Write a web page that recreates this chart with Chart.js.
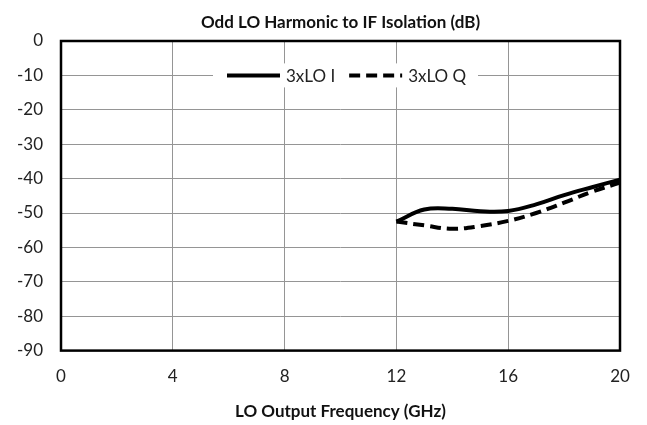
<!DOCTYPE html>
<html>
<head>
<meta charset="utf-8">
<script src="https://cdn.jsdelivr.net/npm/chart.js@4/dist/chart.umd.min.js"></script>
<style>
  html, body { margin: 0; padding: 0; background: #fff; }
  #wrap { width: 647px; height: 425px; }
</style>
</head>
<body>
<div id="wrap"><canvas id="isoChart"></canvas></div>
<script>
// values
const freqGHz = [12, 13, 14, 15, 16, 17, 18, 19, 20];
const loI = [-52.5, -49.0, -48.8, -49.5, -49.4, -47.5, -44.8, -42.5, -40.3];
const loQ = [-52.5, -53.6, -54.6, -53.8, -52.3, -50.0, -47.0, -43.8, -41.2];
const seriesNames = ['3xLO I', '3xLO Q'];
const xTicks = [0, 4, 8, 12, 16, 20];
const yTicks = [0, -10, -20, -30, -40, -50, -60, -70, -80, -90];
const chartTitle = 'Odd LO Harmonic to IF Isolation (dB)';

const FONT = 'Lato, Open Sans, sans-serif';

const toPoints = (ys) => freqGHz.map((f, i) => ({ x: f, y: ys[i] }));

// box round the plot, title centred on the plot, legend inside the plot
const framePlugin = {
  id: 'frame',
  afterDraw(chart) {
    const { ctx, chartArea: a } = chart;
    ctx.save();
    ctx.strokeStyle = '#000';
    ctx.lineWidth = 2.5;
    ctx.strokeRect(a.left, a.top, a.right - a.left, a.bottom - a.top);

    ctx.fillStyle = '#111';
    ctx.font = 'bold 17px ' + FONT;
    ctx.textAlign = 'center';
    ctx.textBaseline = 'alphabetic';
    ctx.fillText(chartTitle, (a.left + a.right) / 2, 28);

    // legend
    const cy = chart.scales.y.getPixelForValue(-10);
    ctx.fillStyle = '#fff';
    ctx.fillRect(213, cy - 12, 265, 24);
    ctx.font = '17px ' + FONT;
    ctx.textAlign = 'left';
    ctx.textBaseline = 'middle';
    let x = 227;
    chart.data.datasets.forEach((ds) => {
      ctx.beginPath();
      ctx.setLineDash(ds.borderDash || []);
      ctx.lineWidth = ds.borderWidth;
      ctx.strokeStyle = ds.borderColor;
      ctx.moveTo(x, cy);
      ctx.lineTo(x + 53, cy);
      ctx.stroke();
      ctx.setLineDash([]);
      ctx.fillStyle = '#222';
      ctx.fillText(ds.label, x + 59, cy + 1);
      x += 59 + ctx.measureText(ds.label).width + 14;
    });
    ctx.restore();
  }
};

new Chart(document.getElementById('isoChart'), {
  type: 'line',
  data: {
    datasets: [
      {
        label: seriesNames[0],
        data: toPoints(loI),
        borderColor: '#000',
        borderWidth: 4,
        pointRadius: 0,
        tension: 0.4,
        fill: false
      },
      {
        label: seriesNames[1],
        data: toPoints(loQ),
        borderColor: '#000',
        borderWidth: 4,
        borderDash: [11, 6],
        pointRadius: 0,
        tension: 0.4,
        fill: false
      }
    ]
  },
  options: {
    responsive: true,
    maintainAspectRatio: false,
    animation: false,
    layout: { padding: { left: 0, right: 27, top: 41, bottom: 5 } },
    plugins: {
      legend: { display: false },
      tooltip: { enabled: false },
      title: { display: false }
    },
    scales: {
      x: {
        type: 'linear',
        min: 0,
        max: 20,
        afterBuildTicks: (s) => { s.ticks = xTicks.map(v => ({ value: v })); },
        ticks: { color: '#222', font: { family: FONT, size: 17 }, padding: 16 },
        grid: { color: '#959595', lineWidth: 1, drawTicks: false },
        border: { display: false },
        title: {
          display: true,
          text: 'LO Output Frequency (GHz)',
          color: '#111',
          font: { family: FONT, size: 17, weight: 'bold', lineHeight: 1.0 },
          padding: { top: 0, bottom: 0 }
        }
      },
      y: {
        min: -90,
        max: 0,
        afterBuildTicks: (s) => { s.ticks = yTicks.map(v => ({ value: v })); },
        afterFit: (s) => { s.width = 61; },
        ticks: { color: '#222', font: { family: FONT, size: 17 }, padding: 18 },
        grid: { color: '#959595', lineWidth: 1, drawTicks: false },
        border: { display: false }
      }
    }
  },
  plugins: [framePlugin]
});
</script>
</body>
</html>
